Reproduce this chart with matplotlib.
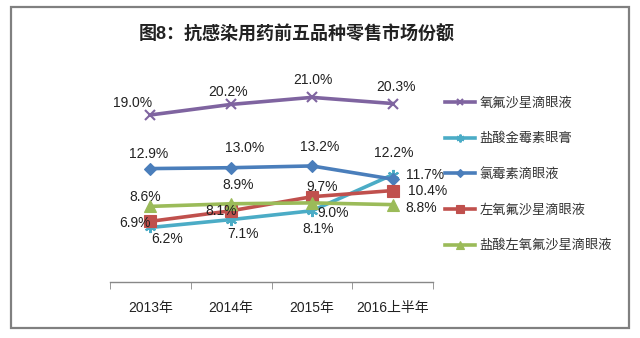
import matplotlib
matplotlib.use('Agg')
from matplotlib import pyplot as plt
from matplotlib.patches import Rectangle
import numpy as np

plt.rcParams['font.family'] = ['Liberation Sans', 'Noto Sans CJK SC']

# data
categories = ['2013年', '2014年', '2015年', '2016上半年']
series_names = ['氧氟沙星滴眼液', '盐酸金霉素眼膏', '氯霉素滴眼液', '左氧氟沙星滴眼液', '盐酸左氧氟沙星滴眼液']
ofloxacin = [19.0, 20.2, 21.0, 20.3]
chlortetracycline = [6.2, 7.1, 8.1, 12.2]
chloramphenicol = [12.9, 13.0, 13.2, 11.7]
levofloxacin = [6.9, 8.1, 9.7, 10.4]
levofloxacin_hcl = [8.6, 8.9, 9.0, 8.8]

# style per series: colour, marker, marker size, label offsets in pixels
styles = [
    ('#7F64A0', 'x', 7, [(-18, 12), (-3, 12), (1, 17), (3, 17)]),
    ('#4BACC6', (6, 2, 0), 8, [(17, -12), (12, -14), (6, -18), (1, 22)]),
    ('#4A7EBB', 'D', 6, [(-2, 15), (14, 20), (8, 19), (32, 4)]),
    ('#C0504D', 's', 8.5, [(-15, -2), (-10, 0), (10, 10), (35, 0)]),
    ('#9BBB59', '^', 8, [(-5, 9), (7, 19), (21, -10), (29, -3)]),
]
values = [ofloxacin, chlortetracycline, chloramphenicol, levofloxacin, levofloxacin_hcl]

fig = plt.figure(figsize=(6.4, 3.38), dpi=100)
fig.patch.set_facecolor('white')

# outer frame
fig.patches.append(Rectangle((0.017, 0.030), 0.966, 0.950, transform=fig.transFigure,
                             fill=False, edgecolor='#808080', linewidth=1.6))

fig.text(139 / 640, 1 - 35 / 338, '图8：抗感染用药前五品种零售市场份额', fontsize=13,
         fontweight='bold', ha='left', va='center', color='#222222',
         family=['Liberation Sans', 'Noto Sans CJK SC'])

ax = fig.add_axes([110 / 640, (338 - 282) / 338, 323 / 640, 211 / 338])
ax.set_xlim(-0.5, len(categories) - 0.5)
ax.set_ylim(0, 24)

x = np.arange(len(categories))
handles = []
for name, vals, (col, mk, ms, offs) in zip(series_names, values, styles):
    line, = ax.plot(x, vals, color=col, linewidth=2.6, marker=mk, markersize=ms,
                    markeredgewidth=1.5 if mk in ('x',) or isinstance(mk, tuple) else 0.8,
                    markeredgecolor=col, markerfacecolor=col, label=name, zorder=3)
    handles.append(line)
    for xi, v, (dx, dy) in zip(x, vals, offs):
        ax.annotate('{:.1f}%'.format(v), (xi, v), textcoords='offset pixels',
                    xytext=(dx, dy), ha='center', va='center', fontsize=10,
                    color='#222222', zorder=4)

for s in ['left', 'right', 'top']:
    ax.spines[s].set_visible(False)
ax.spines['bottom'].set_color('#888888')
ax.spines['bottom'].set_linewidth(1.0)
ax.set_yticks([])
ax.set_xticks(x)
ax.set_xticklabels(categories, fontsize=10, color='#222222')
ax.tick_params(axis='x', which='major', length=0, pad=14)
ax.set_xticks(np.arange(-0.5, len(categories)), minor=True)
ax.tick_params(axis='x', which='minor', length=5, color='#888888', direction='out')
ax.set_facecolor('none')

fig.legend(handles=handles, loc='upper left', bbox_to_anchor=(445 / 640, 1 - 97 / 338),
           frameon=False, fontsize=9.5, labelspacing=1.75, handlelength=2.3,
           handletextpad=0.3, borderpad=0, borderaxespad=0, labelcolor='#333333',
           markerscale=0.7)

fig.savefig('out.png', dpi=100, facecolor='white')
